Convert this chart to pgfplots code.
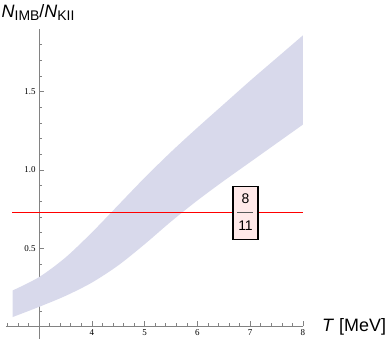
\documentclass[border=0pt]{standalone}
\usepackage{pgfplots}
\usepackage{pgfplotstable}
\pgfplotsset{compat=1.18}
\usepgfplotslibrary{fillbetween}
\usepackage{fontspec}
\setmainfont{Liberation Serif}
\newfontfamily\lsans{Liberation Sans}

\definecolor{band}{RGB}{216,217,235}
\definecolor{boxbg}{RGB}{255,233,233}
\definecolor{axgray}{RGB}{130,130,130}
\definecolor{bargray}{RGB}{90,90,90}

% upper and lower edge of the band (T in MeV)
\pgfplotstableread{
T    y
2.5  0.23
3.0  0.315
3.5  0.44
4.0  0.60
4.5  0.775
5.0  0.95
5.5  1.115
6.0  1.27
6.5  1.42
7.0  1.57
7.5  1.715
8.0  1.86
}\upperedge
\pgfplotstableread{
T    y
2.5  0.06
3.0  0.125
3.5  0.195
4.0  0.28
4.5  0.39
5.0  0.525
5.5  0.67
6.0  0.805
6.5  0.93
7.0  1.05
7.5  1.17
8.0  1.29
}\loweredge

\begin{document}
\begin{tikzpicture}
\begin{axis}[
    scale only axis,
    width=297.3bp, height=310bp,
    xmin=-0.63, xmax=5, ymin=-0.08, ymax=1.9,
    axis lines=middle,
    axis line style={-, axgray, line width=0.6bp},
    xtick={1,2,3,4,5}, xticklabels={4,5,6,7,8},
    minor xtick={-0.6,-0.4,-0.2,0.2,0.4,0.6,0.8,1.2,1.4,1.6,1.8,2.2,2.4,2.6,2.8,3.2,3.4,3.6,3.8,4.2,4.4,4.6,4.8},
    ytick={0.5,1,1.5}, yticklabels={0.5,1.0,1.5},
    minor ytick={0.1,0.2,0.3,0.4,0.6,0.7,0.8,0.9,1.1,1.2,1.3,1.4,1.6,1.7,1.8},
    tick align=inside,
    major tick length=5bp, minor tick length=3bp,
    tick style={axgray, line width=0.6bp},
    tick label style={font=\fontsize{9}{10}\selectfont},
    clip=false,
]
\addplot[name path=up, draw=none, smooth] table[x expr=\thisrow{T}-3, y=y] {\upperedge};
\addplot[name path=lo, draw=none, smooth] table[x expr=\thisrow{T}-3, y=y] {\loweredge};
\addplot[band, draw=none] fill between[of=up and lo];

% 8/11 line
\addplot[red, line width=0.9bp] coordinates {(-0.51,0.72727) (5,0.72727)};
\coordinate (frc) at (axis cs:3.911,0.72727);

\node[anchor=north west, inner sep=0pt, font=\lsans\fontsize{18}{20}\selectfont]
      at (axis cs:-0.739,2.0856) [xshift=1.5bp, yshift=-4bp]
      {\textit{N}\raisebox{-3.4bp}{\fontsize{14}{15}\selectfont IMB}/\textit{N}\raisebox{-3.4bp}{\fontsize{14}{15}\selectfont KII}};
\node[anchor=base west, inner sep=0pt, font=\lsans\fontsize{18}{20}\selectfont]
      at (axis cs:5.36,-0.03) {\textit{T} [MeV]};

\coordinate (tl) at (axis cs:-0.739,2.0856);
\coordinate (br) at (axis cs:6.686,-0.092);
\end{axis}
% label box on top of the line
\node[draw=black, line width=1.2bp, fill=boxbg, minimum width=25bp, minimum height=53bp,
      inner sep=0pt] (fr) at (frc) {};
\node[font=\lsans\fontsize{14}{16}\selectfont, inner sep=0pt] at ([yshift=13.5bp]fr.center) {8};
\node[font=\lsans\fontsize{14}{16}\selectfont, inner sep=0pt] at ([yshift=-13.5bp]fr.center) {11};
\draw[draw=bargray, line width=0.8bp] ([xshift=-8bp]fr.center) -- ([xshift=8bp]fr.center);
\pgfresetboundingbox
\path[use as bounding box] (tl) rectangle (br);
\end{tikzpicture}
\end{document}
